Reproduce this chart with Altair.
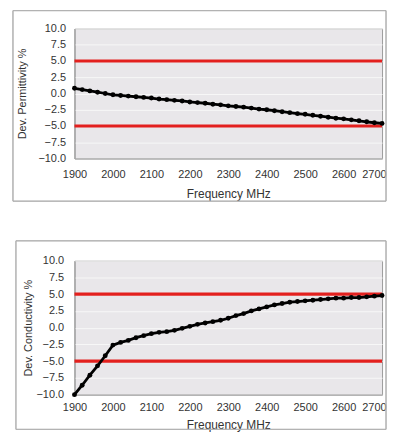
import altair as alt
import pandas as pd

freq = list(range(1900, 2701, 20))
permittivity = [0.8, 0.6, 0.4, 0.2, 0.0, -0.2, -0.3, -0.4, -0.5, -0.6,
                -0.7, -0.85, -0.95, -1.05, -1.15, -1.3, -1.4, -1.5, -1.65, -1.75,
                -1.9, -2.0, -2.1, -2.25, -2.4, -2.5, -2.65, -2.8, -2.95, -3.1,
                -3.2, -3.35, -3.5, -3.65, -3.8, -3.9, -4.05, -4.2, -4.35, -4.5, -4.6]
conductivity = [-10.0, -8.6, -7.1, -5.7, -4.2, -2.6, -2.2, -1.9, -1.5, -1.2,
                -0.9, -0.7, -0.6, -0.4, -0.1, 0.2, 0.5, 0.7, 0.9, 1.1,
                1.4, 1.8, 2.1, 2.5, 2.8, 3.1, 3.4, 3.6, 3.8, 3.9,
                4.0, 4.1, 4.2, 4.3, 4.4, 4.4, 4.5, 4.5, 4.6, 4.7, 4.8]
limits = [5.0, -5.0]
x_ticks = list(range(1900, 2701, 100))
y_ticks = [-10.0, -7.5, -5.0, -2.5, 0.0, 2.5, 5.0, 7.5, 10.0]

FONT = "Liberation Sans"


def panel(values, ytitle, W, H, frame, xlab_pad, xtitle_y, ylab_pad, ytitle_x):
    df = pd.DataFrame({"f": freq, "v": values})
    lim = pd.DataFrame({"v": limits})
    xaxis = alt.Axis(values=x_ticks, title="Frequency MHz", format="d",
                     grid=False, ticks=False, labelPadding=xlab_pad,
                     labelOverlap=False, labelFlush=False,
                     labelAlign={"condition": {"test": "datum.value == 2700", "value": "right"},
                                 "value": "center"},
                     labelOffset={"condition": {"test": "datum.value == 2700", "value": 4},
                                  "value": 0},
                     titleY=xtitle_y, titleBaseline="middle",
                     titleFontSize=12, domainColor="#999999")
    yaxis = alt.Axis(values=y_ticks, format=".1f", title=ytitle,
                     grid=True, gridColor="#f7f7f7", gridWidth=1,
                     ticks=False, labelPadding=ylab_pad,
                     labelOverlap=False, labelFlush=False,
                     titleX=ytitle_x, titleY=H / 2,
                     titleAlign="center", titleBaseline="middle",
                     domainColor="#999999")
    xs = alt.Scale(domain=[1900, 2700], nice=False)
    ys = alt.Scale(domain=[-10, 10], nice=False)
    x = alt.X("f:Q", scale=xs, axis=xaxis)
    y = alt.Y("v:Q", scale=ys, axis=yaxis)
    rules = alt.Chart(lim).mark_rule(color="#e3201e", strokeWidth=3.2).encode(y=y)
    line = alt.Chart(df).mark_line(color="black", strokeWidth=2.8).encode(x=x, y=y)
    pts = alt.Chart(df).mark_circle(color="black", size=24, opacity=1).encode(x=x, y=y)
    l, t, r, b = frame
    box = alt.Chart(lim).mark_rect(fill=None, stroke="#b0b0b0", strokeWidth=1, clip=False).encode(
        x=alt.value(l), x2=alt.value(W + r), y=alt.value(t), y2=alt.value(H + b))
    return alt.layer(rules, line, pts, box).properties(width=W, height=H)


top = panel(permittivity, "Dev. Permittivity %", 310, 131, (-62, -18, 4, 43), 10, 35, 9, -52)
bottom = panel(conductivity, "Dev. Conductivity %", 310, 135, (-59, -20, 4, 35), 7, 30, 11, -46)

chart = alt.vconcat(top, bottom, spacing=38).properties(
    padding={"left": 4, "top": 0, "right": 0, "bottom": 0}
).configure_view(
    fill="#e9e7ea", stroke="#9a9a9a", strokeWidth=1
).configure_axis(
    labelFont=FONT, titleFont=FONT, labelFontSize=11, titleFontSize=11,
    labelColor="#333333", titleColor="#333333", titleFontWeight="normal"
)

chart.save("out.html", embed_options={"renderer": "svg", "actions": False})
